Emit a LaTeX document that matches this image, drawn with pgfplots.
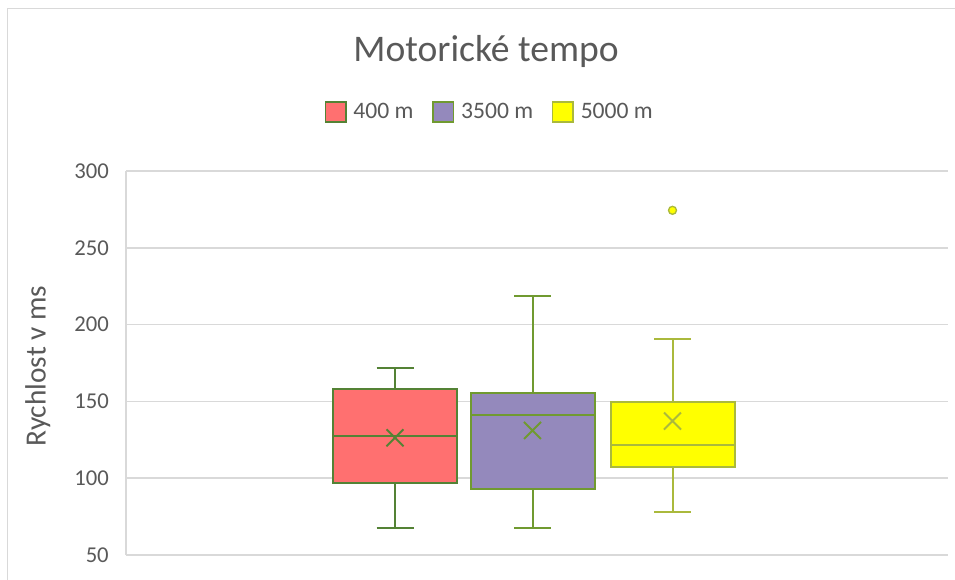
\documentclass[border=0pt]{standalone}
\usepackage{pgfplots}
\pgfplotsset{compat=1.18}
\usepackage{fontspec}
\setmainfont{Carlito}
\definecolor{txt}{HTML}{595959}
\definecolor{gridc}{HTML}{D9D9D9}
\definecolor{fillR}{RGB}{255,112,112}
\definecolor{fillP}{RGB}{148,137,188}
\definecolor{fillY}{RGB}{255,255,0}
\definecolor{edgeR}{HTML}{548235}
\definecolor{edgeP}{RGB}{112,154,48}
\definecolor{edgeY}{RGB}{170,185,60}
\begin{document}
\begin{tikzpicture}
\useasboundingbox (0,0) rectangle (716.25pt,434.25pt);
\draw[gridc, line width=0.75pt] (5.25pt,-10pt) -- (5.25pt,427.5pt) -- (730pt,427.5pt);
\begin{axis}[
  at={(94.5pt,18pt)}, anchor=south west,
  width=616.5pt, height=288pt, scale only axis,
  xmin=126, xmax=948, ymin=50, ymax=300,
  ytick={50,100,...,300}, xtick=\empty,
  ymajorgrids, major grid style={gridc, line width=1.1pt},
  axis x line*=bottom, axis y line*=left,
  x axis line style={draw=none},
  y axis line style={gridc, line width=1.1pt},
  major tick length=0pt,
  tick label style={font=\fontsize{17}{20}\selectfont, text=txt},
  /pgf/number format/assume math mode=true,
  yticklabel style={inner sep=0pt, xshift=-12.75pt},
  ylabel={Rychlost v ms},
  ylabel style={at={(axis description cs:-0.0977,0.492)}, anchor=base, font=\fontsize{22}{26}\selectfont, text=txt},
  title={Motorické tempo},
  title style={at={(axis description cs:0.438,1.285)}, anchor=base, yshift=-6pt, font=\fontsize{28.2}{33}\selectfont, text=txt},
  legend style={at={(axis description cs:0.4428,1.1536)}, anchor=center, draw=none, fill=none, legend columns=3,
    font=\fontsize{17.7}{21}\selectfont, text=txt,
    /tikz/every odd column/.append style={column sep=3pt},
    /tikz/every even column/.append style={column sep=12pt}},
]
\addlegendimage{legend image code/.code={\draw[draw=edgeR, fill=fillR, line width=1.2pt] (0pt,-7.7pt) rectangle (15.5pt,7.7pt);}}
\addlegendentry{400 m}
\addlegendimage{legend image code/.code={\draw[draw=edgeP, fill=fillP, line width=1.2pt] (0pt,-7.7pt) rectangle (15.5pt,7.7pt);}}
\addlegendentry{3500 m}
\addlegendimage{legend image code/.code={\draw[draw=edgeY, fill=fillY, line width=1.2pt] (0pt,-7.7pt) rectangle (15.5pt,7.7pt);}}
\addlegendentry{5000 m}

% --- 400 m: whiskers 67.6/172, quartiles 97.2/158.3, median 127.4, mean 126.3
\addplot[forget plot, edgeR, line width=1.5pt] coordinates {(395,67.6) (395,172)};
\addplot[forget plot, edgeR, line width=1.5pt] coordinates {(376.5,172) (413.5,172)};
\addplot[forget plot, edgeR, line width=1.5pt] coordinates {(376.5,67.6) (413.5,67.6)};
\addplot[forget plot, draw=edgeR, fill=fillR, line width=1.5pt] coordinates {(333,97.2) (457,97.2) (457,158.3) (333,158.3)} -- cycle;
\addplot[forget plot, edgeR, line width=1.5pt] coordinates {(333,127.4) (457,127.4)};
\addplot[forget plot, only marks, mark=x, mark size=9pt, edgeR, mark options={line width=1.5pt}] coordinates {(395,126.3)};

% --- 3500 m: whiskers 67.6/218.9, quartiles 93.1/155.2, median 141.3, mean 131.1
\addplot[forget plot, edgeP, line width=1.5pt] coordinates {(532.5,67.6) (532.5,218.9)};
\addplot[forget plot, edgeP, line width=1.5pt] coordinates {(514,218.9) (551,218.9)};
\addplot[forget plot, edgeP, line width=1.5pt] coordinates {(514,67.6) (551,67.6)};
\addplot[forget plot, draw=edgeP, fill=fillP, line width=1.5pt] coordinates {(470.5,93.1) (594.5,93.1) (594.5,155.2) (470.5,155.2)} -- cycle;
\addplot[forget plot, edgeP, line width=1.5pt] coordinates {(470.5,141.3) (594.5,141.3)};
\addplot[forget plot, only marks, mark=x, mark size=9pt, edgeP, mark options={line width=1.5pt}] coordinates {(532.5,131.1)};

% --- 5000 m: whiskers 77.8/190.9, quartiles 107/149.4, median 121.5, mean 137.2, outlier 274.4
\addplot[forget plot, edgeY, line width=1.5pt] coordinates {(672.5,77.8) (672.5,190.9)};
\addplot[forget plot, edgeY, line width=1.5pt] coordinates {(654,190.9) (691,190.9)};
\addplot[forget plot, edgeY, line width=1.5pt] coordinates {(654,77.8) (691,77.8)};
\addplot[forget plot, draw=edgeY, fill=fillY, line width=1.5pt] coordinates {(610.5,107) (734.5,107) (734.5,149.4) (610.5,149.4)} -- cycle;
\addplot[forget plot, edgeY, line width=1.5pt] coordinates {(610.5,121.5) (734.5,121.5)};
\addplot[forget plot, only marks, mark=x, mark size=9pt, edgeY, mark options={line width=1.5pt}] coordinates {(672.5,137.2)};
\addplot[forget plot, only marks, mark=*, mark size=3pt, mark options={fill=fillY, draw=edgeY, line width=1pt}] coordinates {(672.5,274.4)};
\end{axis}
\end{tikzpicture}
\end{document}
